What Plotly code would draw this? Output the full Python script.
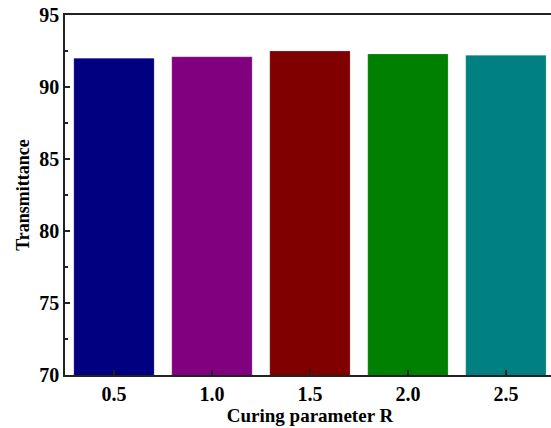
import plotly.graph_objects as go

categories = [0.5, 1.0, 1.5, 2.0, 2.5]
tick_labels = ["0.5", "1.0", "1.5", "2.0", "2.5"]
transmittance = [92.0, 92.1, 92.5, 92.3, 92.2]
colors = ["#000080", "#800080", "#800000", "#008000", "#008080"]

font_family = "Liberation Serif"

fig = go.Figure(go.Bar(
    x=categories, y=transmittance, width=0.41,
    marker=dict(color=colors, line=dict(width=0.5, color="rgba(255,255,255,0.4)")),
))

fig.update_layout(
    width=555, height=428,
    margin=dict(l=65, r=0, t=15, b=53, autoexpand=False),
    plot_bgcolor="white", paper_bgcolor="white",
    showlegend=False, hovermode=False,
    font=dict(family=font_family, color="black"),
)
fig.update_xaxes(
    range=[0.25, 2.7506],
    tickvals=categories, ticktext=tick_labels,
    ticks="inside", ticklen=5, tickwidth=1.5, tickcolor="#222",
    showline=True, linecolor="#222", linewidth=1.5, mirror=True,
    showgrid=False, zeroline=False,
    tickfont=dict(size=20, family=font_family, weight="bold"),
    title=dict(text="<b>Curing parameter R</b>", font=dict(size=19, family=font_family), standoff=5),
)
fig.update_yaxes(
    range=[70, 95],
    tickvals=[70, 75, 80, 85, 90, 95],
    ticks="inside", ticklen=5, tickwidth=1.5, tickcolor="#222",
    minor=dict(tickvals=[72.5, 77.5, 82.5, 87.5, 92.5], ticks="inside", ticklen=3, tickwidth=1.5, tickcolor="#222"),
    showline=True, linecolor="#222", linewidth=1.5, mirror=False,
    showgrid=False, zeroline=False,
    ticklabeloverflow="allow",
    tickfont=dict(size=20, family=font_family, weight="bold"),
    title=dict(text="<b>Transmittance</b>", font=dict(size=18, family=font_family), standoff=5),
)

fig.write_html(
    "out.html",
    config={"displayModeBar": False},
    post_script="document.body.style.margin='0';document.body.style.overflow='hidden';",
)
